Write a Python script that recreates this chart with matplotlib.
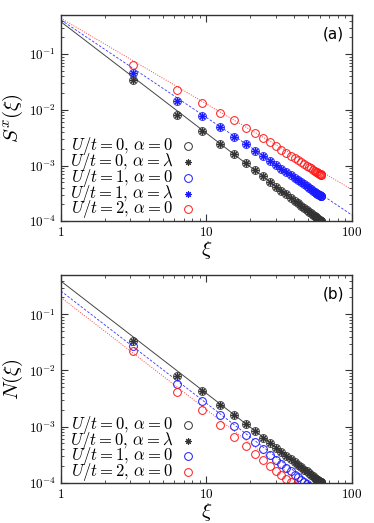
import numpy as np
import matplotlib
matplotlib.use('Agg')
import matplotlib.pyplot as plt

plt.rcParams['mathtext.fontset'] = 'cm'
plt.rcParams['font.family'] = 'serif'
plt.rcParams['font.serif'] = ['DejaVu Serif']

# distances xi (shared by all series)
xi = [3.14, 6.27, 9.39, 12.48, 15.54, 18.56, 21.53, 24.45, 27.30, 30.08,
      32.78, 35.39, 37.91, 40.33, 42.65, 44.86, 46.95, 48.92, 50.77, 52.48,
      54.07, 55.50, 56.79, 57.90, 58.88, 59.71, 60.37, 60.89, 61.25, 61.46]

# panel (a): S^x(xi)
sx_u0 = [0.0336, 0.0080, 0.00425, 0.00241, 0.00158, 0.00110, 0.00082, 0.000636, 0.000510, 0.000420,
         0.000354, 0.000303, 0.000264, 0.000234, 0.000209, 0.000189, 0.000172, 0.000159, 0.000147, 0.000138,
         0.000130, 0.000123, 0.000118, 0.000113, 0.000110, 0.000107, 0.000104, 0.000102, 0.000101, 0.000101]
sx_u0_lam = list(sx_u0)
sx_u1 = [0.0457, 0.0143, 0.0079, 0.0049, 0.00326, 0.00248, 0.00186, 0.00148, 0.00121, 0.00102,
         0.000873, 0.000760, 0.000672, 0.000601, 0.000543, 0.000496, 0.000457, 0.000424, 0.000397, 0.000374,
         0.000355, 0.000338, 0.000325, 0.000313, 0.000304, 0.000296, 0.000291, 0.000286, 0.000283, 0.000282]
sx_u1_lam = list(sx_u1)
sx_u2 = [0.063, 0.0225, 0.0133, 0.0088, 0.0065, 0.00475, 0.00385, 0.00312, 0.00260, 0.00222,
         0.00192, 0.00169, 0.00151, 0.00137, 0.00125, 0.00115, 0.00106, 0.000994, 0.000935, 0.000885,
         0.000842, 0.000807, 0.000777, 0.000752, 0.000732, 0.000715, 0.000702, 0.000693, 0.000686, 0.000682]

# panel (b): N(xi)
n_u0 = list(sx_u0)
n_u0_lam = list(sx_u0)
n_u1 = [0.0276, 0.00585, 0.00285, 0.00164, 0.00104, 0.000713, 0.000522, 0.000400, 0.000317, 0.000258,
        0.000216, 0.000184, 0.000159, 0.000140, 0.000124, 0.000112, 0.000101, 0.0000931, 0.0000861, 0.0000804,
        0.0000755, 0.0000714, 0.000068, 0.000065, 0.000063, 0.000061, 0.000060, 0.000059, 0.000058, 0.000058]
n_u2 = [0.0223, 0.0042, 0.00194, 0.00105, 0.00066, 0.000453, 0.000330, 0.000252, 0.000200, 0.000163,
        0.000136, 0.000115, 0.000101, 0.000087, 0.000078, 0.000070, 0.000063, 0.000058, 0.000054, 0.000050,
        0.000047, 0.000044, 0.000042, 0.000041, 0.000039, 0.000038, 0.000037, 0.000036, 0.000036, 0.000036]

# fitted power-law lines, endpoints at xi=1 and xi=100
fit_x = [1, 100]
fit_a = {'k': [0.38, 3.8e-5], 'b': [0.41, 1.29e-4], 'r': [0.44, 3.7e-4]}
fit_b = {'k': [0.39, 3.9e-5], 'b': [0.26, 2.6e-5], 'r': [0.20, 2.0e-5]}

line_style = {'k': dict(color='#444444', ls='-', lw=0.7),
              'b': dict(color='#3333ff', ls=(0, (3, 2)), lw=0.6),
              'r': dict(color='#ff4444', ls=(0, (1, 1.5)), lw=0.7)}
colors = {'k': '#333333', 'b': '#1a1aff', 'r': '#ff1a1a'}

ast = (8, 2, 0)
MS_O = 5.6
MS_S = 4.6

def panel(ax, series, fits, tag, ylab):
    for c in ['k', 'b', 'r']:
        ax.plot(fit_x, fits[c], **line_style[c], zorder=1)
    for y, c, m in series:
        if m == 'o':
            ax.plot(xi, y, 'o', ms=MS_O, mfc='none', mec=colors[c], mew=0.7, zorder=2)
        else:
            ax.plot(xi, y, marker=ast, ls='none', ms=MS_S, mec=colors[c], mew=0.8, zorder=3)
    ax.set_xscale('log')
    ax.set_yscale('log')
    ax.set_xlim(1, 100)
    ax.set_ylim(1e-4, 0.5)
    ax.tick_params(which='both', direction='in', top=True, right=True, labelsize=9.5, color='#333333')
    ax.tick_params(which='major', length=5, width=0.8)
    ax.tick_params(which='minor', length=2.5, width=0.6)
    ax.set_xticks([1, 10, 100])
    ax.set_xticklabels([r'$1$', r'$10$', r'$100$'])
    ax.set_yticks([1e-4, 1e-3, 1e-2, 1e-1])
    ax.set_yticklabels([r'$10^{-4}$', r'$10^{-3}$', r'$10^{-2}$', r'$10^{-1}$'])
    for s in ax.spines.values():
        s.set_linewidth(1.0)
        s.set_color('#333333')
    ax.set_xlabel(r'$\xi$', fontsize=15, labelpad=0)
    ax.set_ylabel(ylab, fontsize=15, labelpad=3)
    ax.text(0.935, 0.91, tag, transform=ax.transAxes, ha='center', va='center',
            fontsize=11, family='DejaVu Sans')

labels_a = [r'$U/t=0,\,\alpha=0$', r'$U/t=0,\,\alpha=\lambda$', r'$U/t=1,\,\alpha=0$',
            r'$U/t=1,\,\alpha=\lambda$', r'$U/t=2,\,\alpha=0$']
labels_b = [r'$U/t=0,\,\alpha=0$', r'$U/t=0,\,\alpha=\lambda$', r'$U/t=1,\,\alpha=0$',
            r'$U/t=2,\,\alpha=0$']

def legend(ax, labels, keys, y0, dy):
    for i, (lab, (c, m)) in enumerate(zip(labels, keys)):
        y = y0 - i * dy
        ax.text(0.385, y, lab, transform=ax.transAxes, ha='right', va='center', fontsize=12)
        if m == 'o':
            ax.plot([0.437], [y], 'o', ms=MS_O, mfc='none', mec=colors[c], mew=0.7,
                    transform=ax.transAxes, clip_on=False)
        else:
            ax.plot([0.437], [y], marker=ast, ls='none', ms=MS_S, mec=colors[c], mew=0.8,
                    transform=ax.transAxes, clip_on=False)

fig = plt.figure(figsize=(3.74, 5.23), dpi=100)
ax1 = fig.add_axes([0.163, 0.577, 0.778, 0.394])
ax2 = fig.add_axes([0.163, 0.077, 0.778, 0.397])

panel(ax1, [(sx_u0, 'k', 'o'), (sx_u0_lam, 'k', '*'), (sx_u1, 'b', 'o'),
            (sx_u1_lam, 'b', '*'), (sx_u2, 'r', 'o')], fit_a, '(a)', r'$S^x(\xi)$')
legend(ax1, labels_a, [('k', 'o'), ('k', '*'), ('b', 'o'), ('b', '*'), ('r', 'o')], 0.364, 0.0765)

panel(ax2, [(n_u0, 'k', 'o'), (n_u0_lam, 'k', '*'), (n_u1, 'b', 'o'), (n_u2, 'r', 'o')],
      fit_b, '(b)', r'$N(\xi)$')
legend(ax2, labels_b, [('k', 'o'), ('k', '*'), ('b', 'o'), ('r', 'o')], 0.278, 0.075)

fig.savefig('out.png', dpi=100)
